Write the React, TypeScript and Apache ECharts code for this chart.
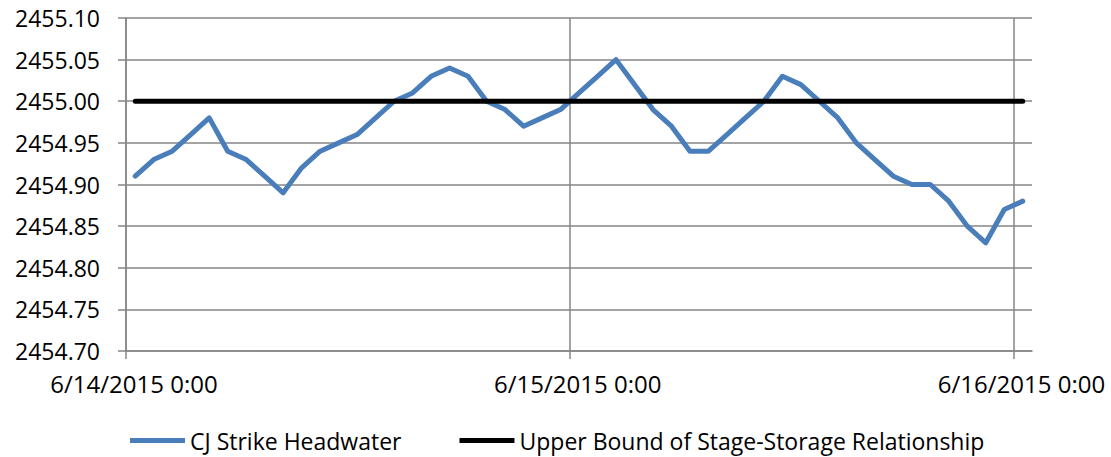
import React, { useEffect, useRef } from "react";
import * as echarts from "echarts";

const times: string[] = [
  "6/14/2015 0:30", "6/14/2015 1:30", "6/14/2015 2:30", "6/14/2015 3:30", "6/14/2015 4:30",
  "6/14/2015 5:30", "6/14/2015 6:30", "6/14/2015 7:30", "6/14/2015 8:30", "6/14/2015 9:30",
  "6/14/2015 10:30", "6/14/2015 11:30", "6/14/2015 12:30", "6/14/2015 13:30", "6/14/2015 14:30",
  "6/14/2015 15:30", "6/14/2015 16:30", "6/14/2015 17:30", "6/14/2015 18:30", "6/14/2015 19:30",
  "6/14/2015 20:30", "6/14/2015 21:30", "6/14/2015 22:30", "6/14/2015 23:30", "6/15/2015 0:30",
  "6/15/2015 1:30", "6/15/2015 2:30", "6/15/2015 3:30", "6/15/2015 4:30", "6/15/2015 5:30",
  "6/15/2015 6:30", "6/15/2015 7:30", "6/15/2015 8:30", "6/15/2015 9:30", "6/15/2015 10:30",
  "6/15/2015 11:30", "6/15/2015 12:30", "6/15/2015 13:30", "6/15/2015 14:30", "6/15/2015 15:30",
  "6/15/2015 16:30", "6/15/2015 17:30", "6/15/2015 18:30", "6/15/2015 19:30", "6/15/2015 20:30",
  "6/15/2015 21:30", "6/15/2015 22:30", "6/15/2015 23:30", "6/16/2015 0:30",
];

const headwater: number[] = [
  2454.91, 2454.93, 2454.94, 2454.96, 2454.98,
  2454.94, 2454.93, 2454.91, 2454.89, 2454.92,
  2454.94, 2454.95, 2454.96, 2454.98, 2455.0,
  2455.01, 2455.03, 2455.04, 2455.03, 2455.0,
  2454.99, 2454.97, 2454.98, 2454.99, 2455.01,
  2455.03, 2455.05, 2455.02, 2454.99, 2454.97,
  2454.94, 2454.94, 2454.96, 2454.98, 2455.0,
  2455.03, 2455.02, 2455.0, 2454.98, 2454.95,
  2454.93, 2454.91, 2454.9, 2454.9, 2454.88,
  2454.85, 2454.83, 2454.87, 2454.88,
];

const upperBound: number[] = times.map(() => 2455.0);

const xAxisStart = "6/14/2015 0:00";
const xAxisEnd = "6/16/2015 1:00";
const yMin = 2454.7;
const yMax = 2455.1;
const yStep = 0.05;

const seriesNames = ["CJ Strike Headwater", "Upper Bound of Stage-Storage Relationship"];

function parseTime(s: string): number {
  const [d, t] = s.split(" ");
  const [m, day, y] = d.split("/").map(Number);
  const [h, min] = t.split(":").map(Number);
  return Date.UTC(y, m - 1, day, h, min);
}

const DAY = 86400000;

export default function App() {
  const ref = useRef<HTMLDivElement>(null);
  useEffect(() => {
    if (!ref.current) return;
    const chart = echarts.init(ref.current, undefined, { renderer: "svg" });
    const font = "'Open Sans', sans-serif";
    const gray = "#868686";
    chart.setOption({
      animation: false,
      backgroundColor: "#ffffff",
      grid: { left: 126, right: 79, top: 18, bottom: 106, containLabel: false },
      legend: {
        left: 125,
        top: 424,
        itemWidth: 55,
        itemHeight: 5,
        itemGap: 58,
        icon: "rect",
        textStyle: { fontFamily: font, fontSize: 23, color: "#000" },
        data: seriesNames,
      },
      xAxis: {
        type: "value",
        min: parseTime(xAxisStart),
        max: parseTime(xAxisEnd),
        interval: DAY,
        axisLine: { show: true, lineStyle: { color: gray, width: 1.5 } },
        axisTick: { show: true, length: 8, inside: false, lineStyle: { color: gray, width: 1.5 } },
        splitLine: { show: true, showMaxLine: false, lineStyle: { color: gray, width: 1.5 } },
        axisLabel: {
          showMaxLabel: false,
          margin: 20,
          padding: [0, 0, 0, 16],
          fontFamily: font,
          fontSize: 24,
          color: "#000",
          formatter: (v: number) => {
            if (v % DAY !== 0) return "";
            const dt = new Date(v);
            return `${dt.getUTCMonth() + 1}/${dt.getUTCDate()}/${dt.getUTCFullYear()} 0:00`;
          },
        },
      },
      yAxis: {
        type: "value",
        min: yMin,
        max: yMax,
        interval: yStep,
        axisLine: { show: true, lineStyle: { color: gray, width: 1.5 } },
        axisTick: { show: true, length: 8, inside: false, lineStyle: { color: gray, width: 1.5 } },
        splitLine: { show: true, lineStyle: { color: gray, width: 1.5 } },
        axisLabel: {
          margin: 26,
          fontFamily: font,
          fontSize: 23,
          color: "#000",
          formatter: (v: number) => v.toFixed(2),
        },
      },
      series: [
        {
          name: seriesNames[0],
          type: "line",
          data: times.map((t, i) => [parseTime(t), headwater[i]]),
          showSymbol: false,
          symbol: "none",
          lineStyle: { color: "#4a7ebb", width: 5, cap: "round", join: "round" },
          itemStyle: { color: "#4a7ebb" },
          z: 2,
        },
        {
          name: seriesNames[1],
          type: "line",
          data: times.map((t, i) => [parseTime(t), upperBound[i]]),
          showSymbol: false,
          symbol: "none",
          lineStyle: { color: "#000000", width: 5, cap: "round" },
          itemStyle: { color: "#000000" },
          z: 3,
        },
      ],
    });
    return () => chart.dispose();
  }, []);
  return (
    <div
      ref={ref}
      style={{ position: "fixed", left: 0, top: 0, width: 1111, height: 457 }}
    />
  );
}
